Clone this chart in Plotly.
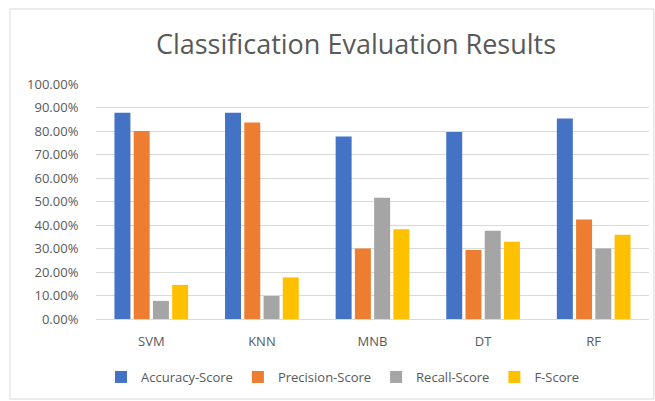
import plotly.graph_objects as go

categories = ["SVM", "KNN", "MNB", "DT", "RF"]
accuracy = [0.878, 0.878, 0.777, 0.796, 0.853]
precision = [0.800, 0.836, 0.300, 0.294, 0.423]
recall = [0.077, 0.098, 0.516, 0.376, 0.300]
fscore = [0.145, 0.177, 0.382, 0.329, 0.359]

series = [
    ("Accuracy-Score", accuracy, "#4472C4"),
    ("Precision-Score", precision, "#ED7D31"),
    ("Recall-Score", recall, "#A5A5A5"),
    ("F-Score", fscore, "#FFC000"),
]

W, H = 655, 401
L, R, T, B = 96, 6, 84, 82
pw = W - L - R
ph = H - T - B

fig = go.Figure()
for name, vals, col in series:
    fig.add_trace(go.Bar(x=categories, y=vals, name=name, marker_color=col,
                         marker_line_width=0))

font = "'Open Sans', sans-serif"
fig.update_layout(
    width=W, height=H,
    margin=dict(l=L, r=R, t=T, b=B, autoexpand=False),
    paper_bgcolor="white", plot_bgcolor="white",
    barmode="group", bargap=0.304, bargroupgap=0.17,
    font=dict(family=font, size=12, color="#595959"),
    title=dict(text="Classification Evaluation Results", x=356 / W, xanchor="center",
               y=1 - 45 / H, yanchor="middle",
               font=dict(family=font, size=27, color="#595959")),
    showlegend=True,
    legend=dict(orientation="h", x=(343 - L) / pw, xanchor="center",
                y=-(377 - (T + ph)) / ph, yanchor="middle",
                font=dict(family=font, size=13, color="#595959"),
                itemwidth=30, traceorder="normal"),
    xaxis=dict(showgrid=False, showline=True, linecolor="#d9d9d9", linewidth=1,
               ticks="outside", ticklen=10, tickcolor="rgba(0,0,0,0)",
               tickfont=dict(family=font, size=13, color="#595959")),
    yaxis=dict(range=[0, 1.0], dtick=0.1, tickformat=".2%", showgrid=True,
               gridcolor="#d9d9d9", gridwidth=1, zeroline=False, showline=False,
               ticks="outside", ticklen=14, tickcolor="rgba(0,0,0,0)",
               tickfont=dict(family=font, size=13, color="#595959")),
)

fig.add_shape(type="rect", xref="paper", yref="paper",
              x0=(10 - L) / pw, x1=(654 - L) / pw,
              y0=-(399 - (T + ph)) / ph, y1=(T + ph - 9) / ph,
              line=dict(color="#d9d9d9", width=1), fillcolor="rgba(0,0,0,0)", layer="below")

fig.write_html("out.html", config={"displayModeBar": False},
               post_script="document.body.style.margin='0';document.body.style.overflow='hidden';")
